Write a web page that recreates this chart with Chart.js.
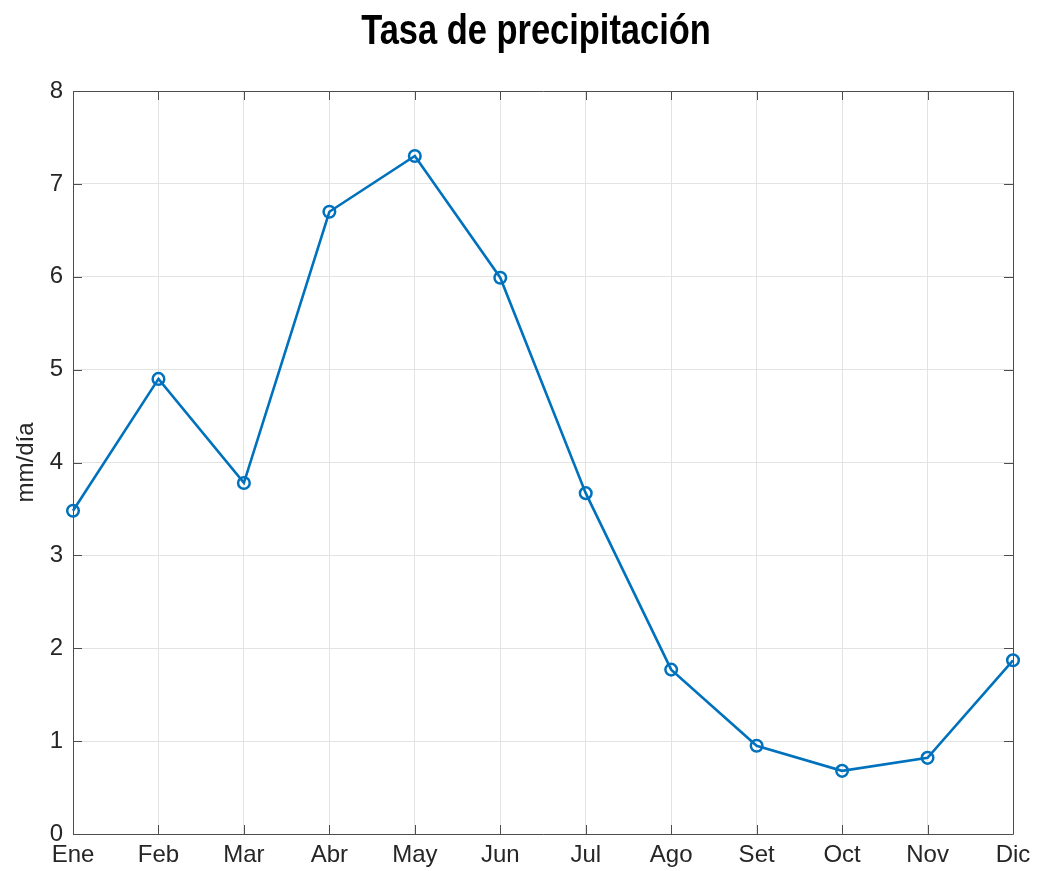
<!DOCTYPE html>
<html>
<head>
<meta charset="utf-8">
<script src="https://cdn.jsdelivr.net/npm/chart.js@4.4.1/dist/chart.umd.min.js"></script>
<style>
  html, body { margin: 0; padding: 0; background: #fff; }
  #wrap { width: 1038px; height: 871px; position: relative; }
</style>
</head>
<body>
<div id="wrap"><canvas id="c"></canvas></div>
<script>
// Monthly precipitation rate (mm/day)
const months = ['Ene', 'Feb', 'Mar', 'Abr', 'May', 'Jun', 'Jul', 'Ago', 'Set', 'Oct', 'Nov', 'Dic'];
const rate = [3.48, 4.90, 3.78, 6.70, 7.30, 5.99, 3.67, 1.77, 0.95, 0.68, 0.82, 1.87];
const yTicks = [0, 1, 2, 3, 4, 5, 6, 7, 8];
const chartTitle = 'Tasa de precipitación';

const lineBlue = '#0072BD';
const axisColor = '#4d4d4d';
const textColor = '#262626';

// Axes box with inward tick marks on all four sides
const boxPlugin = {
  id: 'axesBox',
  beforeDatasetsDraw(chart) {
    const { ctx, chartArea: a, scales } = chart;
    const len = 9;
    ctx.save();
    ctx.strokeStyle = axisColor;
    ctx.lineWidth = 1;
    ctx.beginPath();
    ctx.rect(Math.round(a.left) + 0.5, Math.round(a.top) + 0.5,
             Math.round(a.right - a.left), Math.round(a.bottom - a.top));
    scales.y.ticks.forEach(t => {
      const y = Math.round(scales.y.getPixelForValue(t.value)) + 0.5;
      ctx.moveTo(a.left, y); ctx.lineTo(a.left + len, y);
      ctx.moveTo(a.right, y); ctx.lineTo(a.right - len, y);
    });
    scales.x.ticks.forEach((t, i) => {
      const x = Math.round(scales.x.getPixelForTick(i)) + 0.5;
      ctx.moveTo(x, a.bottom); ctx.lineTo(x, a.bottom - len);
      ctx.moveTo(x, a.top); ctx.lineTo(x, a.top + len);
    });
    ctx.stroke();
    ctx.restore();
  }
};

// Bold, horizontally condensed title centred on the figure
const titlePlugin = {
  id: 'condensedTitle',
  afterDraw(chart) {
    const { ctx } = chart;
    const cx = chart.width / 2 + 17;
    ctx.save();
    ctx.font = "bold 42px 'Liberation Sans', Arial, sans-serif";
    ctx.fillStyle = '#000';
    ctx.textAlign = 'center';
    ctx.textBaseline = 'alphabetic';
    ctx.translate(cx, 44);
    ctx.scale(0.82, 1);
    ctx.fillText(chartTitle, 0, 0);
    ctx.restore();
  }
};

new Chart(document.getElementById('c'), {
  type: 'line',
  data: {
    labels: months,
    datasets: [{
      data: rate,
      borderColor: lineBlue,
      borderWidth: 2.6,
      pointStyle: 'circle',
      pointRadius: 5.8,
      pointHoverRadius: 5.8,
      pointBorderWidth: 2.5,
      pointBorderColor: lineBlue,
      pointBackgroundColor: 'rgba(0,0,0,0)',
      tension: 0,
      clip: false
    }]
  },
  options: {
    responsive: true,
    maintainAspectRatio: false,
    animation: false,
    events: [],
    layout: { padding: { left: 0, right: 25, top: 91, bottom: 0 } },
    plugins: {
      legend: { display: false },
      tooltip: { enabled: false },
      title: { display: false }
    },
    scales: {
      x: {
        type: 'category',
        offset: false,
        grid: { display: true, color: '#e3e3e3', lineWidth: 1, drawTicks: false, offset: false },
        border: { display: false },
        ticks: {
          color: textColor,
          font: { family: "'Liberation Sans', Arial, sans-serif", size: 24 },
          padding: 7,
          autoSkip: false,
          maxRotation: 0
        },
        afterFit(scale) { scale.height = 37; }
      },
      y: {
        min: 0,
        max: 8,
        afterBuildTicks(scale) { scale.ticks = yTicks.map(v => ({ value: v })); },
        grid: { display: true, color: '#e3e3e3', lineWidth: 1, drawTicks: false },
        border: { display: false },
        ticks: {
          color: textColor,
          font: { family: "'Liberation Sans', Arial, sans-serif", size: 24 },
          padding: 10
        },
        title: {
          display: true,
          text: 'mm/día',
          color: textColor,
          font: { family: "'Liberation Sans', Arial, sans-serif", size: 24 },
          padding: { top: 12, bottom: 0 }
        },
        afterFit(scale) { scale.width = 73; }
      }
    }
  },
  plugins: [boxPlugin, titlePlugin]
});
</script>
</body>
</html>
